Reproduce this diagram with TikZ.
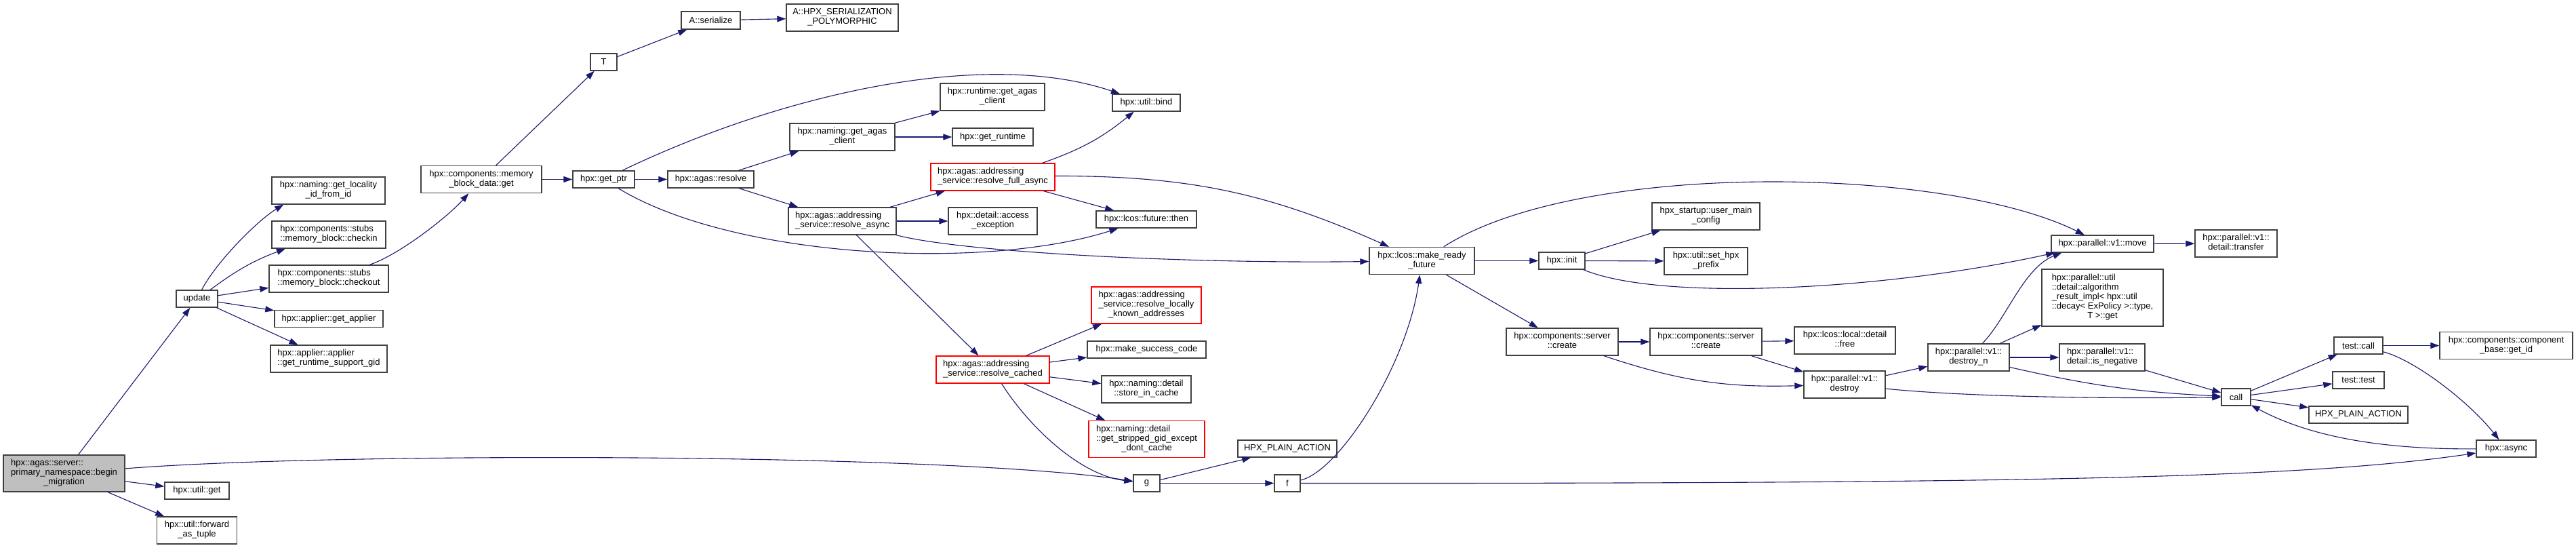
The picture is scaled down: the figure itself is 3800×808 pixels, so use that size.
\documentclass[tikz,border=0pt]{standalone}
\usepackage{fontspec}
\setmainfont{Liberation Sans}
\usetikzlibrary{arrows.meta}

\definecolor{edgeblue}{HTML}{191970}
\definecolor{startfill}{HTML}{BFBFBF}

\newcommand{\lbl}[2]{\begin{tabular}{@{}l@{}}#1\\\multicolumn{1}{@{}c@{}}{#2}\end{tabular}}

\begin{document}
\begin{tikzpicture}[
    x=1pt, y=1pt,
    box/.style={
        draw=black!75,
        fill=white,
        line width=1.4pt,
        inner sep=2pt,
        minimum height=25pt,
        font=\fontsize{13}{14}\selectfont
    },
    redbox/.style={
        box,
        draw=red
    },
    startbox/.style={
        box,
        fill=startfill
    },
    arrow/.style={
        -{Triangle[length=13pt,width=9pt]},
        draw=edgeblue,
        line width=1.1pt
    }
]

\useasboundingbox[fill=white] (0,0) rectangle (3800,-808);

\node[startbox, minimum width=179pt, minimum height=54pt] (migrate) at (94.5,-698) {
    \lbl{hpx::agas::server::\\primary\_namespace::begin}{\_migration}
};

\node[box, minimum width=61pt] (update) at (290.5,-440.5) {update};
\node[box, minimum width=95pt] (utilget) at (290.5,-723.5) {hpx::util::get};
\node[box, minimum width=118pt, minimum height=40pt] (fwdtuple) at (290.5,-782) {
    \lbl{hpx::util::forward}{\_as\_tuple}
};

\node[box, minimum width=167pt, minimum height=40pt] (locid) at (484.5,-281) {
    \lbl{hpx::naming::get\_locality}{\_id\_from\_id}
};
\node[box, minimum width=168pt, minimum height=40pt] (checkin) at (485,-346) {
    \lbl{hpx::components::stubs}{::memory\_block::checkin}
};
\node[box, minimum width=176pt, minimum height=40pt] (checkout) at (485,-411) {
    \lbl{hpx::components::stubs}{::memory\_block::checkout}
};
\node[box, minimum width=160pt] (getapplier) at (485,-470) {hpx::applier::get\_applier};
\node[box, minimum width=172pt, minimum height=40pt] (rtsgid) at (485,-529) {
    \lbl{hpx::applier::applier}{::get\_runtime\_support\_gid}
};

\node[box, minimum width=178pt, minimum height=40pt] (mbdget) at (710,-264.5) {
    \lbl{hpx::components::memory}{\_block\_data::get}
};
\node[box, minimum width=39pt] (T) at (890.5,-91.5) {T};
\node[box, minimum width=91pt] (getptr) at (890.5,-264.5) {hpx::get\_ptr};
\node[box, minimum width=87pt, minimum height=26pt] (serialize) at (1048.5,-30) {A::serialize};
\node[box, minimum width=127pt] (resolve) at (1048.5,-264.5) {hpx::agas::resolve};
\node[box, minimum width=165pt, minimum height=40pt] (serpoly) at (1242.5,-26) {
    \lbl{A::HPX\_SERIALIZATION}{\_POLYMORPHIC}
};
\node[box, minimum width=155pt, minimum height=40pt] (nagas) at (1242.5,-202) {
    \lbl{hpx::naming::get\_agas}{\_client}
};
\node[box, minimum width=159pt, minimum height=40pt] (rasync) at (1242.5,-326) {
    \lbl{hpx::agas::addressing}{\_service::resolve\_async}
};

\node[box, minimum width=154pt, minimum height=40pt] (ragas) at (1464,-143) {
    \lbl{hpx::runtime::get\_agas}{\_client}
};
\node[box, minimum width=119pt, minimum height=26pt] (getruntime) at (1464.5,-202) {hpx::get\_runtime};
\node[redbox, minimum width=183pt, minimum height=40pt] (fullasync) at (1464.5,-261) {
    \lbl{hpx::agas::addressing}{\_service::resolve\_full\_async}
};
\node[box, minimum width=131pt, minimum height=40pt] (accessexc) at (1464.5,-326) {
    \lbl{hpx::detail::access}{\_exception}
};
\node[redbox, minimum width=167pt, minimum height=40pt] (cached) at (1464.5,-545) {
    \lbl{hpx::agas::addressing}{\_service::resolve\_cached}
};

\node[box, minimum width=100pt] (bind) at (1691,-151.5) {hpx::util::bind};
\node[box, minimum width=148pt] (then) at (1691,-323.5) {hpx::lcos::future::then};
\node[redbox, minimum width=162pt, minimum height=54pt] (locally) at (1691,-450) {
    \lbl{hpx::agas::addressing\\\_service::resolve\_locally}{\_known\_addresses}
};
\node[box, minimum width=175pt] (successcode) at (1691.5,-515.5) {hpx::make\_success\_code};
\node[box, minimum width=132pt, minimum height=40pt] (storecache) at (1691,-574) {
    \lbl{hpx::naming::detail}{::store\_in\_cache}
};
\node[redbox, minimum width=171pt, minimum height=54pt] (stripped) at (1691.5,-647.5) {
    \lbl{hpx::naming::detail\\::get\_stripped\_gid\_except}{\_dont\_cache}
};
\node[box, minimum width=39pt] (g) at (1691.5,-712.5) {g};

\node[box, minimum width=146pt] (plainleft) at (1899,-661.5) {HPX\_PLAIN\_ACTION};
\node[box, minimum width=38pt] (f) at (1899,-712.5) {f};

\node[box, minimum width=155pt, minimum height=40pt] (mrf) at (2097.5,-384.5) {
    \lbl{hpx::lcos::make\_ready}{\_future}
};

\node[box, minimum width=68pt] (init) at (2304,-384.5) {hpx::init};
\node[box, minimum width=165pt, minimum height=40pt] (createone) at (2304.5,-504) {
    \lbl{hpx::components::server}{::create}
};

\node[box, minimum width=159pt, minimum height=40pt] (usermain) at (2516.5,-319) {
    \lbl{hpx\_startup::user\_main}{\_config}
};
\node[box, minimum width=123pt, minimum height=40pt] (prefix) at (2516.5,-385) {
    \lbl{hpx::util::set\_hpx}{\_prefix}
};
\node[box, minimum width=165pt, minimum height=40pt] (createtwo) at (2516.5,-504) {
    \lbl{hpx::components::server}{::create}
};

\node[box, minimum width=149pt, minimum height=40pt] (free) at (2721.5,-502) {
    \lbl{hpx::lcos::local::detail}{::free}
};
\node[box, minimum width=120pt, minimum height=40pt] (destroy) at (2721,-567) {
    \lbl{hpx::parallel::v1::}{destroy}
};

\node[box, minimum width=120pt, minimum height=40pt] (destroyn) at (2904,-527) {
    \lbl{hpx::parallel::v1::}{destroy\_n}
};

\node[box, minimum width=151pt] (move) at (3101.5,-359.5) {hpx::parallel::v1::move};
\node[box, minimum width=179pt, minimum height=84pt] (algo) at (3101.5,-439) {
    \lbl{hpx::parallel::util\\::detail::algorithm\\\_result\_impl< hpx::util\\::decay< ExPolicy >::type,}{T >::get}
};
\node[box, minimum width=126pt, minimum height=40pt] (isneg) at (3101,-527) {
    \lbl{hpx::parallel::v1::}{detail::is\_negative}
};

\node[box, minimum width=121pt, minimum height=40pt] (transfer) at (3298.5,-359) {
    \lbl{hpx::parallel::v1::}{detail::transfer}
};
\node[box, minimum width=43pt] (call) at (3298.5,-585.5) {call};

\node[box, minimum width=72pt] (testcall) at (3479,-509.5) {test::call};
\node[box, minimum width=76pt] (testtest) at (3479,-560.5) {test::test};
\node[box, minimum width=146pt] (plainright) at (3479,-611.5) {HPX\_PLAIN\_ACTION};

\node[box, minimum width=196pt, minimum height=40pt] (getid) at (3697,-509.5) {
    \lbl{hpx::components::component}{\_base::get\_id}
};
\node[box, minimum width=88pt] (async) at (3697,-661.5) {hpx::async};

\draw[arrow] (migrate) -- (update);
\draw[arrow] (migrate) .. controls (500,-666) and (1400,-668) .. (g);
\draw[arrow] (migrate) -- (utilget);
\draw[arrow] (migrate) -- (fwdtuple);

\draw[arrow] (update) .. controls (320,-385) and (380,-325) .. ([xshift=18pt]locid.south west);
\draw[arrow] (update) to[bend left=8] (checkin);
\draw[arrow] (update) -- (checkout);
\draw[arrow] (update) -- (getapplier);
\draw[arrow] (update) -- (rtsgid);

\draw[arrow] (checkout) .. controls (590,-375) and (660,-320) .. (mbdget);
\draw[arrow] (mbdget) -- (T);
\draw[arrow] (mbdget) -- (getptr);
\draw[arrow] (T) -- (serialize);
\draw[arrow] (serialize) -- (serpoly);

\draw[arrow] (getptr) .. controls (1150,-140) and (1450,-70) .. (bind);
\draw[arrow] (getptr) -- (resolve);
\draw[arrow] (getptr) .. controls (1080,-380) and (1450,-400) .. (then);

\draw[arrow] (resolve) -- (nagas);
\draw[arrow] (resolve) -- (rasync);
\draw[arrow] (nagas) -- (ragas);
\draw[arrow] (nagas) -- (getruntime);

\draw[arrow] (rasync) -- (fullasync);
\draw[arrow] (rasync) -- (accessexc);
\draw[arrow] (rasync) .. controls (1420,-372) and (1750,-389) .. (mrf);
\draw[arrow] (rasync) -- (cached);

\draw[arrow] (fullasync) to[bend right=10] (bind);
\draw[arrow] (fullasync) -- (then);
\draw[arrow] (fullasync) to[bend left=12] (mrf);

\draw[arrow] (cached) -- (locally);
\draw[arrow] (cached) -- (successcode);
\draw[arrow] (cached) -- (storecache);
\draw[arrow] (cached) -- (stripped);
\draw[arrow] (cached) .. controls (1515,-625) and (1590,-700) .. (g);

\draw[arrow] (g) -- (plainleft);
\draw[arrow] (g) -- (f);
\draw[arrow] (f) .. controls (1975,-695) and (2075,-540) .. (mrf);
\draw[arrow] (f) .. controls (3000,-713) and (3400,-705) .. (async);

\draw[arrow] (mrf) -- (init);
\draw[arrow] (mrf) -- (createone);
\draw[arrow] (mrf) .. controls (2330,-235) and (2870,-245) .. (move);

\draw[arrow] (init) -- (usermain);
\draw[arrow] (init) -- (prefix);
\draw[arrow] (init) .. controls (2450,-445) and (2780,-428) .. ([xshift=6pt]move.south west);

\draw[arrow] (createone) -- (createtwo);
\draw[arrow] (createone) to[bend right=10] (destroy);
\draw[arrow] (createtwo) -- (free);
\draw[arrow] (createtwo) -- (destroy);

\draw[arrow] (destroy) -- (destroyn);
\draw[arrow] (destroy) .. controls (2900,-585) and (3100,-588) .. (call);

\draw[arrow] (destroyn) .. controls (2960,-470) and (2985,-395) .. ([xshift=16pt]move.south west);
\draw[arrow] (destroyn) -- (algo);
\draw[arrow] (destroyn) -- (isneg);
\draw[arrow] (destroyn) to[bend right=5] (call);
\draw[arrow] (isneg) -- (call);

\draw[arrow] (move) -- (transfer);

\draw[arrow] (call) -- (testcall);
\draw[arrow] (call) -- (testtest);
\draw[arrow] (call) -- (plainright);
\draw[arrow] (testcall) -- (getid);
\draw[arrow] (testcall) .. controls (3560,-530) and (3640,-590) .. (async);
\draw[arrow] (async) .. controls (3500,-663) and (3400,-640) .. (call);

\end{tikzpicture}
\end{document}
